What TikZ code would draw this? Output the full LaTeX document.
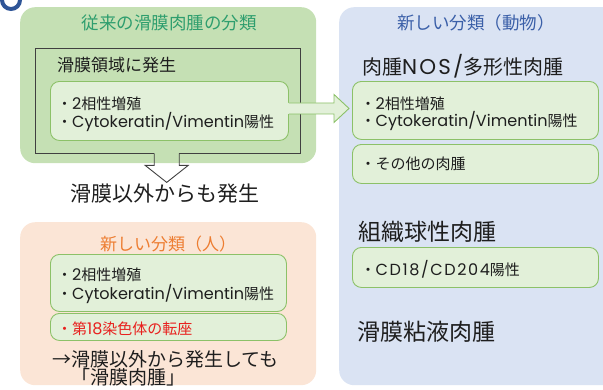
\documentclass[tikz,border=0pt]{standalone}
\usepackage{fontspec}
\setmainfont{Noto Sans CJK JP}
\newfontfamily\lat[Scale=1.07]{Poppins}
\newfontfamily\latw[Scale=1.07,LetterSpace=10]{Poppins}
\usetikzlibrary{calc}
\definecolor{gfill}{HTML}{C5E0B4}
\definecolor{lgfill}{HTML}{E2F0D9}
\definecolor{gline}{HTML}{8CC168}
\definecolor{ofill}{HTML}{FBE5D6}
\definecolor{bfill}{HTML}{DAE3F3}
\definecolor{gtitle}{HTML}{2E9E6E}
\definecolor{otitle}{HTML}{ED7D31}
\definecolor{btitle}{HTML}{3A5FA8}
\definecolor{ringblue}{HTML}{2F5597}
\definecolor{darkline}{HTML}{404040}
\definecolor{txt}{HTML}{1E1E1E}
\definecolor{redtxt}{HTML}{E8211E}
\tikzset{
  panel/.style={rectangle, rounded corners=15pt, draw=none, anchor=north west, inner sep=0pt},
  itembox/.style={rectangle, rounded corners=9pt, draw=gline, fill=lgfill, line width=0.9pt, anchor=north west, inner sep=0pt},
  body/.style={anchor=west, inner sep=0pt, text=txt, font=\fontsize{15}{18}\selectfont, text height=13.5pt, text depth=2.1pt},
  title/.style={inner sep=0pt, font=\fontsize{17.5}{20}\selectfont, text height=15.7pt, text depth=2.4pt},
  head/.style={anchor=west, inner sep=0pt, text=txt, font=\fontsize{19}{22}\selectfont, text height=17pt, text depth=2.6pt},
  bighead/.style={anchor=west, inner sep=0pt, text=txt, font=\fontsize{23}{26}\selectfont, text height=20.7pt, text depth=3.2pt},
}
\begin{document}
\begin{tikzpicture}[x=1pt,y=-1pt]
\path[use as bounding box, clip] (0,0) rectangle (603,389);

% decorative ring
\draw[ringblue, line width=4pt] (11,0) circle (9pt);

% ---------- left top panel ----------
\node[panel, fill=gfill, minimum width=296pt, minimum height=156pt] (old) at (20,7) {};
\node[title, text=gtitle] (oldt) at (169,23) {従来の滑膜肉腫の分類};
\node[rectangle, inner sep=0pt, anchor=north west, minimum width=265pt, minimum height=105pt] (frame) at (35,48) {};
\draw[darkline, line width=0.9pt] ($(frame.south)+(-13.5,0)$) -| (frame.north west) -- (frame.north east) -- (frame.south east) -- ($(frame.south)+(11.5,0)$);
\node[anchor=west, inner sep=0pt, text=txt, font=\fontsize{17}{20}\selectfont, text height=15.3pt, text depth=2.4pt] (area) at (57,65.5) {滑膜領域に発生};
\node[itembox, minimum width=238pt, minimum height=59pt] (in1) at (50,81) {};
\node[body] (in1a) at (57,103.5) {・{\lat 2}相性増殖};
\node[body] (in1b) at (57,121.5) {・{\lat Cytokeratin/Vimentin}陽性};

% down arrow (open outline)
\draw[darkline, line width=0.9pt] ($(frame.south)+(-13.5,0)$) -- ++(0,12) -- ++(-9,0) -- ($(frame.south)+(-1,29)$) -- ($(frame.south)+(20.5,12)$) -- ++(-9,0) -- ($(frame.south)+(11.5,0)$);
\node[anchor=center, inner sep=0pt, text=txt, font=\fontsize{21}{24}\selectfont, text height=18.9pt, text depth=2.9pt] (other) at (165,193) {滑膜以外からも発生};

% ---------- left bottom panel ----------
\node[panel, fill=ofill, minimum width=296pt, minimum height=163pt] (human) at (20,222) {};
\node[title, text=otitle, font=\fontsize{17}{20}\selectfont] (humt) at (168,244) {新しい分類（人）};
\node[itembox, minimum width=236pt, minimum height=57pt] (hum1) at (50,254) {};
\node[body] (hum1a) at (57,275) {・{\lat 2}相性増殖};
\node[body] (hum1b) at (57,293.5) {・{\lat Cytokeratin/Vimentin}陽性};
\node[itembox, minimum width=236pt, minimum height=27pt] (hum2) at (50,313) {};
\node[body, text=redtxt] (hum2a) at (57,328.5) {・第{\lat 18}染色体の転座};
\node[head] (res1) at (52,359) {→滑膜以外から発生しても};
\node[head] (res2) at (52,377.5) {　「滑膜肉腫」};

% ---------- right panel ----------
\node[panel, fill=bfill, minimum width=290pt, minimum height=378pt] (animal) at (339,7) {};
\node[title, text=btitle] (anit) at (476,23) {新しい分類（動物）};
\node[head, font=\fontsize{20}{23}\selectfont] (nos) at (362,67.5) {肉腫{\latw NOS/}多形性肉腫};
\node[itembox, minimum width=246pt, minimum height=58pt] (nos1) at (352,81) {};
\node[body] (nos1a) at (360.5,104) {・{\lat 2}相性増殖};
\node[body] (nos1b) at (360.5,121) {・{\lat Cytokeratin/Vimentin}陽性};
\node[itembox, minimum width=246pt, minimum height=39pt] (nos2) at (352,144) {};
\node[body] (nos2a) at (360.5,164) {・その他の肉腫};
\node[bighead] (hist) at (358,232) {組織球性肉腫};
\node[itembox, minimum width=246pt, minimum height=40pt] (cd) at (352,247) {};
\node[body] (cda) at (360.5,269.5) {・{\latw CD18/CD204}陽性};
\node[bighead] (myx) at (357,332) {滑膜粘液肉腫};

% right block arrow from in1 to nos1
\coordinate (ra) at ($(in1.east)+(0,-2.5)$);
\coordinate (rb) at ($(nos1.west)+(-3,-2)$);
\fill[lgfill] ($(ra)+(-1.5,-5.5)$) -- ($(rb)+(-15,-5.5)$) -- ($(rb)+(-15,-14)$) -- (rb) -- ($(rb)+(-15,14)$) -- ($(rb)+(-15,5.5)$) -- ($(ra)+(-1.5,5.5)$) -- cycle;
\draw[gline, line width=0.9pt, line join=miter] ($(ra)+(0,-5.5)$) -- ($(rb)+(-15,-5.5)$) -- ($(rb)+(-15,-14)$) -- (rb) -- ($(rb)+(-15,14)$) -- ($(rb)+(-15,5.5)$) -- ($(ra)+(0,5.5)$);
\end{tikzpicture}
\end{document}
